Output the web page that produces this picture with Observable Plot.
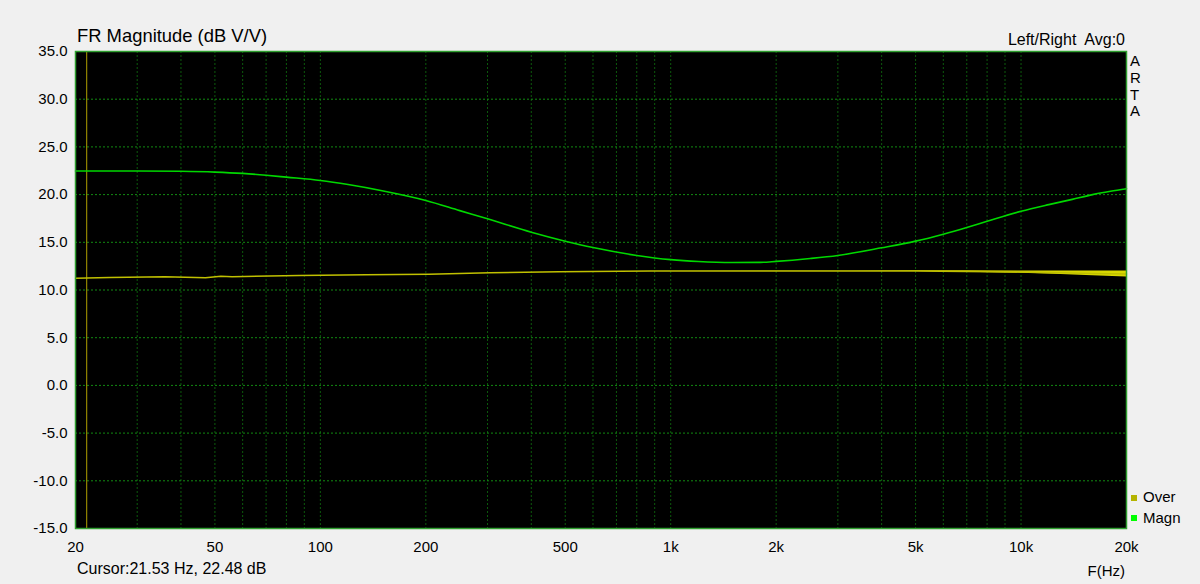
<!DOCTYPE html>
<html>
<head>
<meta charset="utf-8">
<script src="https://cdn.jsdelivr.net/npm/d3@7"></script>
<script src="https://cdn.jsdelivr.net/npm/@observablehq/plot@0.6"></script>
<style>
  html, body { margin: 0; padding: 0; background: #f0f0f0; }
  #wrap { position: relative; width: 1200px; height: 584px; overflow: hidden;
          font-family: "Liberation Sans", Arial, sans-serif; color: #000; }
  .t { position: absolute; white-space: pre; line-height: 1; }
  .sq { position: absolute; width: 6px; height: 6px; }
</style>
</head>
<body>
<div id="wrap"></div>
<script>
// ---- data ----
const magnFreq = [20, 30, 40, 50, 60, 70, 80, 100, 120, 150, 200, 250, 300, 400, 500, 600, 800,
  1000, 1200, 1500, 1800, 2000, 2500, 3000, 4000, 5000, 6000, 7000, 8000, 10000, 12000, 14000,
  16000, 18000, 20000];
const magnDb = [22.48, 22.47, 22.44, 22.36, 22.22, 22.03, 21.83, 21.48, 21.05, 20.40, 19.38,
  18.32, 17.46, 16.06, 15.12, 14.45, 13.62, 13.18, 12.98, 12.88, 12.90, 13.00, 13.30, 13.62,
  14.42, 15.12, 15.85, 16.55, 17.20, 18.25, 18.95, 19.50, 20.00, 20.35, 20.62];

const overFreq = [20, 25, 36, 47, 52, 56, 87, 135, 204, 305, 480, 880, 3300, 5000, 7000, 10000,
  13000, 16000, 20000];
const overDb = [11.24, 11.31, 11.38, 11.28, 11.45, 11.40, 11.52, 11.59, 11.66, 11.80, 11.90,
  12.00, 12.00, 11.98, 11.95, 11.88, 11.80, 11.74, 11.67];
const overSpread = [0, 0, 0, 0, 0, 0, 0, 0, 0, 0, 0, 0, 0.02, 0.05, 0.08, 0.12, 0.18, 0.24, 0.32];

const xTicks = [20, 50, 100, 200, 500, 1000, 2000, 5000, 10000, 20000];
const xTickLabels = ["20", "50", "100", "200", "500", "1k", "2k", "5k", "10k", "20k"];
const xGrid = [30, 40, 50, 60, 70, 80, 90, 100, 200, 300, 400, 500, 600, 700, 800, 900,
  1000, 2000, 3000, 4000, 5000, 6000, 7000, 8000, 9000, 10000];
const yTicks = [-15, -10, -5, 0, 5, 10, 15, 20, 25, 30, 35];
const yGrid = [-10, -5, 0, 5, 10, 15, 20, 25, 30];
const cursorFreq = 21.53;

const title = "FR Magnitude (dB V/V)";
const topRight = "Left/Right  Avg:0";
const sideLetters = ["A", "R", "T", "A"];
const legendNames = ["Over", "Magn"];
const legendColors = ["#b4b400", "#00ff00"];
const cursorText = "Cursor:21.53 Hz, 22.48 dB";
const xLabel = "F(Hz)";

// ---- build ----
const magnRows = magnFreq.map((f, i) => ({f, v: magnDb[i]}));
const overRows = overFreq.map((f, i) => ({f, v: overDb[i], n: overSpread[i]}));
const xTickRows = xTicks.map((f, i) => ({f, label: xTickLabels[i]}));
const yFmt = d => d.toFixed(1);

const chart = Plot.plot({
  width: 1200,
  height: 584,
  marginLeft: 75,
  marginRight: 74,
  marginTop: 51,
  marginBottom: 56,
  style: {background: "transparent", fontFamily: "Liberation Sans, Arial, sans-serif", fontSize: "15px", color: "#000"},
  x: {type: "log", domain: [20, 20000], axis: null},
  y: {domain: [-15, 35]},
  marks: [
    Plot.frame({fill: "#000"}),
    Plot.ruleX(xGrid, {stroke: "#0c5a0c", strokeWidth: 1, strokeDasharray: "2,2"}),
    Plot.ruleY(yGrid, {stroke: "#128a12", strokeWidth: 1, strokeDasharray: "2,2"}),
    Plot.ruleX([cursorFreq], {stroke: "#b0a000", strokeWidth: 1}),
    Plot.areaY(overRows, {x: "f", y1: d => d.v - d.n, y2: d => d.v + d.n, fill: "#d8d800", curve: "linear"}),
    Plot.line(overRows, {x: "f", y: "v", stroke: "#c0c000", strokeWidth: 1.5}),
    Plot.line(magnRows, {x: "f", y: "v", stroke: "#00d800", strokeWidth: 1.6, curve: "monotone-x"}),
    Plot.frame({stroke: "#2f9f2f", strokeWidth: 1.5}),
    Plot.axisY(yTicks, {tickSize: 0, tickPadding: 8, tickFormat: yFmt, label: null, fontSize: 15, fill: "#000"}),
    Plot.text(xTickRows, {x: "f", text: "label", frameAnchor: "bottom", lineAnchor: "top", dy: 13, fontSize: 15, fill: "#000"})
  ]
});

const wrap = document.getElementById("wrap");
wrap.appendChild(chart);

function addText(txt, opts) {
  const el = document.createElement("div");
  el.className = "t";
  el.textContent = txt;
  Object.assign(el.style, opts);
  wrap.appendChild(el);
  return el;
}
// baseline ≈ top + 0.85*fontSize for line-height 1
addText(title, {left: "77px", top: "26.5px", fontSize: "18.4px"});
addText(topRight, {right: "75px", top: "32px", fontSize: "16px"});
sideLetters.forEach((c, i) => addText(c, {left: "1130px", top: (53 + i * 16.8) + "px", fontSize: "15px"}));
legendNames.forEach((n, i) => {
  const sq = document.createElement("div");
  sq.className = "sq";
  sq.style.left = "1131px";
  sq.style.top = (495 + i * 20) + "px";
  sq.style.background = legendColors[i];
  wrap.appendChild(sq);
  addText(n, {left: "1143px", top: (489 + i * 20.6) + "px", fontSize: "15px"});
});
addText(cursorText, {left: "77px", top: "560.5px", fontSize: "16px"});
addText(xLabel, {right: "75px", top: "563.3px", fontSize: "15px"});
</script>
</body>
</html>
